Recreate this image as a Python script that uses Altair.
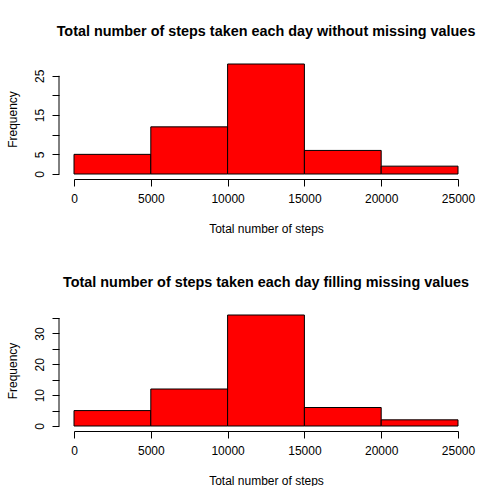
import altair as alt
import pandas as pd

# ---- data ----
bin_start = [0, 5000, 10000, 15000, 20000]
bin_end = [5000, 10000, 15000, 20000, 25000]
freq_without_missing = [5, 12, 28, 6, 2]
freq_filled_missing = [5, 12, 36, 6, 2]
x_ticks = [0, 5000, 10000, 15000, 20000, 25000]
y_ticks_top = [0, 5, 10, 15, 20, 25]
y_ticks_bottom = [0, 5, 10, 15, 20, 25, 30, 35]
title_top = "Total number of steps taken each day without missing values"
title_bottom = "Total number of steps taken each day filling missing values"
x_title = "Total number of steps"
y_title = "Frequency"

FONT = "Liberation Sans"


def panel(counts, ymax, yticks, label_expr, title, height):
    df = pd.DataFrame({"start": bin_start, "end": bin_end, "freq": counts,
                       "base": [0] * len(counts)})
    y_axis = alt.Axis(values=yticks, title=y_title, offset=15,
                      domain=False, grid=False, tickSize=7,
                      tickColor="#000000", labelAngle=270,
                      labelAlign="center", labelBaseline="bottom",
                      labelExpr=label_expr, labelFontSize=12,
                      labelFont=FONT, labelColor="#000000",
                      labelPadding=6, labelFlush=False,
                      titleFont=FONT, titleFontSize=12,
                      titleFontWeight="normal", titleColor="#000000",
                      titlePadding=14)
    y_scale = alt.Scale(domain=[0, ymax], nice=False, zero=True)
    bars = alt.Chart(df).mark_rect(
        color="#FF0000", stroke="#000000", strokeWidth=1
    ).encode(
        x=alt.X("start:Q",
                scale=alt.Scale(domain=[0, 25000], nice=False, zero=False),
                axis=alt.Axis(values=x_ticks, title=x_title, offset=5,
                              grid=False, tickSize=7, tickColor="#000000",
                              domainColor="#000000", labelFontSize=12,
                              labelFont=FONT, labelColor="#000000",
                              labelPadding=7, titleFont=FONT,
                              titleFontSize=12, titleFontWeight="normal",
                              titleColor="#000000", titlePadding=19,
                              format="d", labelFlush=False)),
        x2="end:Q",
        y=alt.Y("freq:Q", scale=y_scale, axis=y_axis),
        y2="base:Q",
    )
    axis_df = pd.DataFrame({"lo": [yticks[0]], "hi": [yticks[-1]]})
    axis_line = alt.Chart(axis_df).mark_rule(
        color="#000000", strokeWidth=1
    ).encode(
        x=alt.value(-15),
        y=alt.Y("lo:Q", scale=y_scale, axis=y_axis),
        y2="hi:Q",
    )
    return alt.layer(bars, axis_line).properties(
        width=384, height=height,
        title=alt.TitleParams(title, font=FONT, fontSize=14.4,
                              fontWeight="bold", color="#000000",
                              anchor="middle", frame="group",
                              baseline="alphabetic", offset=13),
    )


top = panel(freq_without_missing, 28, y_ticks_top,
            "(datum.value == 10 || datum.value == 20) ? '' : datum.label",
            title_top, 110)
bottom = panel(freq_filled_missing, 36, y_ticks_bottom,
               "(datum.value % 10 == 0) ? datum.label : ''",
               title_bottom, 111)

chart = alt.vconcat(top, bottom, spacing=41).properties(
    padding={"left": 6, "top": 24, "right": 0, "bottom": 0},
    background="white",
).configure_view(stroke=None)

chart.save("out.html", embed_options={"renderer": "svg", "actions": False})
